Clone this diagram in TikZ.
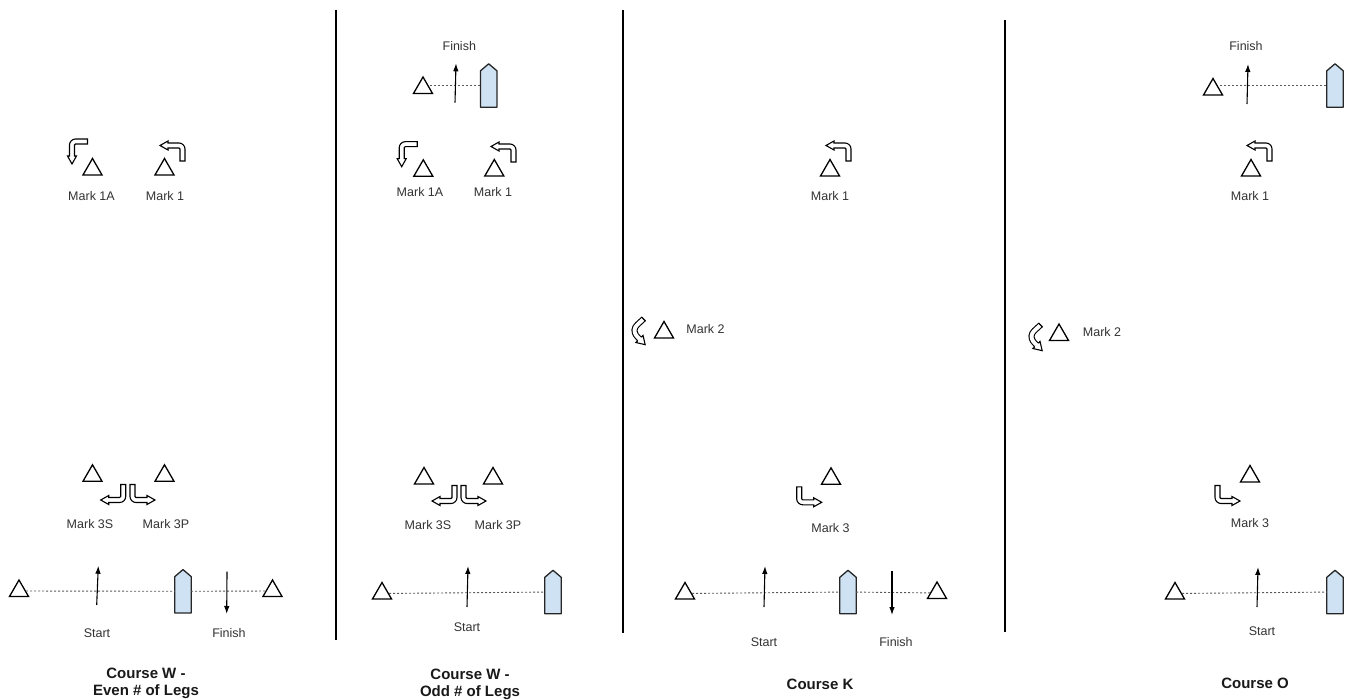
\documentclass[tikz,border=0pt]{standalone}
\usepackage{fontspec}
\setmainfont{Liberation Sans}
\usetikzlibrary{shapes.geometric,arrows.meta}
\definecolor{boatblue}{HTML}{CFE2F3}
\definecolor{txtgray}{HTML}{333333}
\tikzset{
 buoy/.style={regular polygon, regular polygon sides=3, draw=black, line width=1.3pt, minimum size=22pt, inner sep=0pt, fill=white},
 hull/.style={rectangle, minimum width=16pt, minimum height=43pt, inner sep=0pt},
 lbl/.style={font=\fontsize{12.5}{15}\selectfont, text=txtgray, inner sep=0pt},
 ttl/.style={font=\bfseries\fontsize{15}{17}\selectfont, align=center, inner sep=0pt, text=black!90},
 dotline/.style={draw=black!65, line width=0.9pt, dash pattern=on 2pt off 2pt},
 dirarrow/.style={line width=1.1pt, -{Latex[length=8pt,width=5.5pt]}},
 divider/.style={line width=1.3pt},
 bentout/.style={draw=black, line width=1.1pt, fill=white, line join=miter},
}
\newcommand\boatat[2]{%
 \node[hull] (#1) at #2 {};
 \draw[fill=boatblue, line width=1.3pt, draw=black!85, line join=round] (#1.south west) -- (#1.south east) -- ([yshift=-7pt]#1.north east) -- (#1.north) -- ([yshift=-7pt]#1.north west) -- cycle;
}
\newcommand\bentarrow[3]{%
 \begin{scope}[shift={#1}, x={#2}, y={#3}]
 \draw[bentout] (0,0) -- (8,-4.5) -- (8,-2.5) -- (19,-2.5) .. controls (22.3,-2.5) and (25,0.2) .. (25,3.5) -- (25,15.5) -- (20,15.5) -- (20,3.5) .. controls (20,2.95) and (19.55,2.5) .. (19,2.5) -- (8,2.5) -- (8,4.5) -- cycle;
 \end{scope}}
\newcommand\curvarrow[1]{%
 \begin{scope}[shift={#1}]
 \draw[line width=1.1pt, double=white, double distance=3.9pt, line cap=butt] (9,-11) .. controls (5,-7) and (0,-4) .. (0,0) .. controls (0,4) and (2,6) .. (5,9);
 \draw[line width=1.1pt] (11.1,-8.9) -- (6.9,-13.1);
 \fill[white] (8.54,5.46) -- (10.66,14.66) -- (1.46,12.54) -- cycle;
 \draw[line width=1.1pt, line join=miter] (6.77,7.23) -- (8.54,5.46) -- (10.66,14.66) -- (1.46,12.54) -- (3.23,10.77);
 \end{scope}}
\begin{document}
\begin{tikzpicture}[x=1pt, y=-1pt]
\useasboundingbox (0,0) rectangle (1348,700);
\fill[white] (0,0) rectangle (1348,700);

% dividers
\coordinate (d1a) at (336,10); \coordinate (d1b) at (336,640);
\coordinate (d2a) at (623,10); \coordinate (d2b) at (623,633);
\coordinate (d3a) at (1005,20); \coordinate (d3b) at (1005,632);
\draw[divider] (d1a) -- (d1b);
\draw[divider] (d2a) -- (d2b);
\draw[divider] (d3a) -- (d3b);

% ===== Panel 1 =====
\bentarrow{(72,164)}{(0pt,1pt)}{(1pt,0pt)}
\bentarrow{(160,145.5)}{(1pt,0pt)}{(0pt,-1pt)}
\node[buoy] (p1t1a) at (92.5,169.5) {};
\node[buoy] (p1t1) at (164.5,169.5) {};
\node[lbl] (p1l1a) at (91.5,196) {Mark 1A};
\node[lbl] (p1l1) at (165,196) {Mark 1};

\node[buoy] (p1t3s) at (92.5,475.8) {};
\node[buoy] (p1t3p) at (164.5,475.8) {};
\bentarrow{(100.7,500)}{(1pt,0pt)}{(0pt,1pt)}
\bentarrow{(155,500)}{(-1pt,0pt)}{(0pt,1pt)}
\node[lbl] (p1l3s) at (90,524) {Mark 3S};
\node[lbl] (p1l3p) at (166,524) {Mark 3P};

\node[buoy] (p1s1) at (19,591) {};
\node[buoy] (p1s2) at (272.5,591) {};
\boatat{p1b}{(183,591.3)}
\draw[dotline] (p1s1) -- (p1b);
\draw[dotline] (p1b) -- (p1s2);
\coordinate (p1sa0) at (96.7,605); \coordinate (p1sa1) at (98.3,565.7);
\draw[dirarrow] (p1sa0) -- (p1sa1);
\coordinate (p1fa0) at (227,571.7); \coordinate (p1fa1) at (226.7,614);
\draw[dirarrow] (p1fa0) -- (p1fa1);
\node[lbl] (p1ls) at (97,633) {Start};
\node[lbl] (p1lf) at (229,633) {Finish};
\node[ttl] (p1ttl) at (146,683.5) {Course W -\\Even \# of Legs};

% ===== Panel 2 =====
\node[lbl] (p2fl) at (459.3,45.7) {Finish};
\node[buoy] (p2ft) at (423,88) {};
\boatat{p2fb}{(488.7,85.5)}
\draw[dotline] (p2ft.east |- p2fb) -- (p2fb);
\coordinate (p2fa0) at (455,102.7); \coordinate (p2fa1) at (456,63.3);
\draw[dirarrow] (p2fa0) -- (p2fa1);

\bentarrow{(401.7,166.7)}{(0pt,1pt)}{(1pt,0pt)}
\bentarrow{(491,146.5)}{(1pt,0pt)}{(0pt,-1pt)}
\node[buoy] (p2t1a) at (423.3,170.8) {};
\node[buoy] (p2t1) at (494.3,170.5) {};
\node[lbl] (p2l1a) at (420,192.3) {Mark 1A};
\node[lbl] (p2l1) at (493,192) {Mark 1};

\node[buoy] (p2t3s) at (424,478.5) {};
\node[buoy] (p2t3p) at (493,478.5) {};
\bentarrow{(432,501)}{(1pt,0pt)}{(0pt,1pt)}
\bentarrow{(486,501)}{(-1pt,0pt)}{(0pt,1pt)}
\node[lbl] (p2l3s) at (428,525) {Mark 3S};
\node[lbl] (p2l3p) at (498,525) {Mark 3P};

\node[buoy] (p2s1) at (382,593.5) {};
\boatat{p2b}{(553,592)}
\draw[dotline] (p2s1) -- (p2b);
\coordinate (p2sa0) at (467,607); \coordinate (p2sa1) at (468,566);
\draw[dirarrow] (p2sa0) -- (p2sa1);
\node[lbl] (p2ls) at (467,627) {Start};
\node[ttl] (p2ttl) at (470,684) {Course W -\\Odd \# of Legs};

% ===== Panel 3 =====
\bentarrow{(826,145.5)}{(1pt,0pt)}{(0pt,-1pt)}
\node[buoy] (p3t1) at (830,170.5) {};
\node[lbl] (p3l1) at (830,196) {Mark 1};

\curvarrow{(634.5,330)}
\node[buoy] (p3t2) at (664,332.5) {};
\node[lbl] (p3l2) at (705.5,329) {Mark 2};

\node[buoy] (p3t3) at (831,478.8) {};
\bentarrow{(821.7,502.3)}{(-1pt,0pt)}{(0pt,1pt)}
\node[lbl] (p3l3) at (830.5,528) {Mark 3};

\node[buoy] (p3s1) at (685,593.5) {};
\node[buoy] (p3s2) at (937,593) {};
\boatat{p3b}{(848,592)}
\draw[dotline] (p3s1) -- (p3b);
\draw[dotline] (p3b) -- (p3s2);
\coordinate (p3sa0) at (764,607); \coordinate (p3sa1) at (765,566);
\draw[dirarrow] (p3sa0) -- (p3sa1);
\coordinate (p3fa0) at (892,571); \coordinate (p3fa1) at (892,615);
\draw[dirarrow] (p3fa0) -- (p3fa1);
\node[lbl] (p3ls) at (764,642) {Start};
\node[lbl] (p3lf) at (896,642) {Finish};
\node[ttl] (p3ttl) at (820,684) {Course K};

% ===== Panel 4 =====
\node[lbl] (p4fl) at (1246,46) {Finish};
\node[buoy] (p4ft) at (1213,89.5) {};
\boatat{p4fb}{(1335,85.5)}
\draw[dotline] (p4ft.east |- p4fb) -- (p4fb);
\coordinate (p4fa0) at (1247,104); \coordinate (p4fa1) at (1248,64);
\draw[dirarrow] (p4fa0) -- (p4fa1);

\bentarrow{(1247,145.5)}{(1pt,0pt)}{(0pt,-1pt)}
\node[buoy] (p4t1) at (1251,170.5) {};
\node[lbl] (p4l1) at (1250,196) {Mark 1};

\curvarrow{(1031.5,336)}
\node[buoy] (p4t2) at (1059,335) {};
\node[lbl] (p4l2) at (1102,332) {Mark 2};

\node[buoy] (p4t3) at (1250,476.5) {};
\bentarrow{(1240,501)}{(-1pt,0pt)}{(0pt,1pt)}
\node[lbl] (p4l3) at (1250,523) {Mark 3};

\node[buoy] (p4s1) at (1175,593.5) {};
\boatat{p4b}{(1335,592)}
\draw[dotline] (p4s1) -- (p4b);
\coordinate (p4sa0) at (1257,607); \coordinate (p4sa1) at (1258,567);
\draw[dirarrow] (p4sa0) -- (p4sa1);
\node[lbl] (p4ls) at (1262,631) {Start};
\node[ttl] (p4ttl) at (1255,683) {Course O};
\end{tikzpicture}
\end{document}
